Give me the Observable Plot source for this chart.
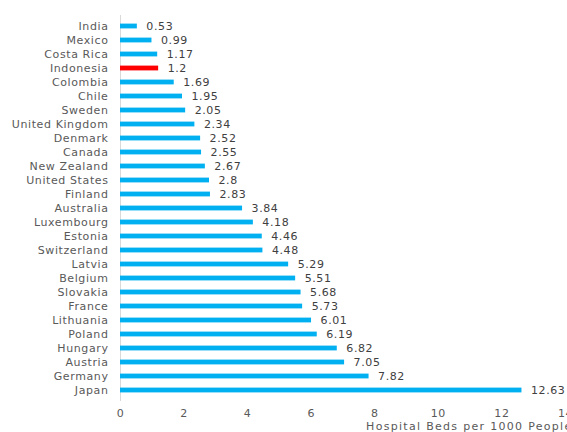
<!DOCTYPE html>
<html>
<head>
<meta charset="utf-8">
<script src="https://cdn.jsdelivr.net/npm/d3@7"></script>
<script src="https://cdn.jsdelivr.net/npm/@observablehq/plot@0.6"></script>
<style>
  html, body { margin: 0; padding: 0; background: #fff; }
  svg { display: block; }
</style>
</head>
<body>
<div id="chart"></div>
<script>
const countries = ["India","Mexico","Costa Rica","Indonesia","Colombia","Chile","Sweden","United Kingdom","Denmark","Canada","New Zealand","United States","Finland","Australia","Luxembourg","Estonia","Switzerland","Latvia","Belgium","Slovakia","France","Lithuania","Poland","Hungary","Austria","Germany","Japan"];
const beds = [0.53,0.99,1.17,1.2,1.69,1.95,2.05,2.34,2.52,2.55,2.67,2.8,2.83,3.84,4.18,4.46,4.48,5.29,5.51,5.68,5.73,6.01,6.19,6.82,7.05,7.82,12.63];
const highlight = "Indonesia";
const xTicks = [0,2,4,6,8,10,12,14];
const xTitle = "Hospital Beds per 1000 People";

const data = countries.map((c, i) => ({country: c, value: beds[i]}));

const chart = Plot.plot({
  width: 567,
  height: 432,
  marginLeft: 120,
  marginRight: 2,
  marginTop: 15,
  marginBottom: 31,
  style: {fontFamily: "DejaVu Sans", fontSize: "11px", color: "#595959", background: "#fff", letterSpacing: "0.6px"},
  x: {domain: [0, 14]},
  y: {domain: countries, padding: 0},
  marks: [
    Plot.ruleX([0], {stroke: "#d9d9d9", strokeWidth: 1}),
    Plot.barX(data, {
      x: "value", y: "country",
      fill: d => d.country === highlight ? "#ff0000" : "#00b0f0",
      insetTop: 4.6, insetBottom: 4.6
    }),
    Plot.text(data, {
      x: "value", y: "country", text: d => String(d.value),
      textAnchor: "start", dx: 9, fill: "#404040", fontSize: 11
    }),
    Plot.axisY({tickSize: 0, tickPadding: 12, label: null, fill: "#595959", fontSize: 11}),
    Plot.axisX({ticks: xTicks, tickSize: 0, tickPadding: 8, label: null, fill: "#595959", fontSize: 11}),
    Plot.text([xTitle], {
      frameAnchor: "bottom-right", textAnchor: "end", lineAnchor: "middle",
      dx: 7, dy: 25, fill: "#595959", fontSize: 11
    })
  ]
});
d3.select(chart).selectAll("text").filter(function() { return this.textContent === xTitle; })
  .style("letter-spacing", "1.3px");
document.getElementById("chart").appendChild(chart);
</script>
</body>
</html>
